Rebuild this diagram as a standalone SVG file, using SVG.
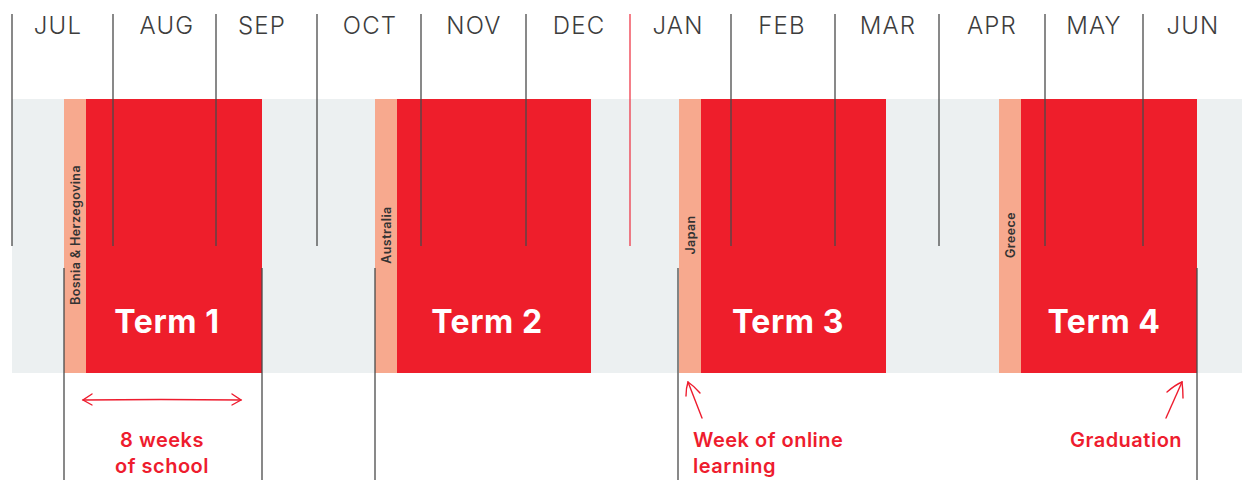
<svg xmlns="http://www.w3.org/2000/svg" width="1242" height="480" viewBox="0 0 1242 480">
<style>
.month{font-family:Inter,"Liberation Sans",sans-serif;font-weight:300;font-size:24px;letter-spacing:1.2px;fill:#3d3d3d;text-anchor:middle}
.term{font-family:Inter,"Liberation Sans",sans-serif;font-weight:700;font-size:32px;letter-spacing:0.6px;fill:#fff;text-anchor:middle}
.country{font-family:Inter,"Liberation Sans",sans-serif;font-weight:600;font-size:12.5px;letter-spacing:0.4px;fill:#333;text-anchor:middle}
.note{font-family:Inter,"Liberation Sans",sans-serif;font-weight:600;font-size:20px;letter-spacing:0.5px;fill:#ee1c2e}
.vl{stroke:#4a4a4a;stroke-width:1.3}
.salmon{fill:#f7a98e}
.red{fill:#ee1e2b}
.arr{stroke:#ee1c2e;stroke-width:1.4;fill:none;stroke-linecap:round}
</style>
<rect x="0" y="0" width="1242" height="480" fill="#fff"/>
<rect x="12" y="99" width="1230" height="274" fill="#ecf0f1"/>

<g id="term1">
<rect class="salmon" x="64" y="99" width="22" height="274"/>
<rect class="red" x="86" y="99" width="176" height="274"/>
<text class="country" transform="translate(79.5,235) rotate(-90)">Bosnia &amp; Herzegovina</text>
<text class="term" x="167" y="333">Term 1</text>
</g>
<g id="term2">
<rect class="salmon" x="375" y="99" width="22" height="274"/>
<rect class="red" x="397" y="99" width="194" height="274"/>
<text class="country" transform="translate(390.5,235) rotate(-90)">Australia</text>
<text class="term" x="487" y="333">Term 2</text>
</g>
<g id="term3">
<rect class="salmon" x="679" y="99" width="22" height="274"/>
<rect class="red" x="701" y="99" width="185" height="274"/>
<text class="country" transform="translate(694.5,235) rotate(-90)">Japan</text>
<text class="term" x="788" y="333">Term 3</text>
</g>
<g id="term4">
<rect class="salmon" x="999" y="99" width="22" height="274"/>
<rect class="red" x="1021" y="99" width="176" height="274"/>
<text class="country" transform="translate(1014.5,235) rotate(-90)">Greece</text>
<text class="term" x="1104" y="333">Term 4</text>
</g>

<g id="months">
<text class="month" x="58" y="34">JUL</text>
<text class="month" x="167" y="34">AUG</text>
<text class="month" x="262" y="34">SEP</text>
<text class="month" x="370" y="34">OCT</text>
<text class="month" x="474" y="34">NOV</text>
<text class="month" x="579" y="34">DEC</text>
<text class="month" x="678" y="34">JAN</text>
<text class="month" x="782" y="34">FEB</text>
<text class="month" x="888" y="34">MAR</text>
<text class="month" x="992" y="34">APR</text>
<text class="month" x="1094" y="34">MAY</text>
<text class="month" x="1193" y="34">JUN</text>
</g>

<g id="connectors">
<line class="vl" x1="12" y1="14" x2="12" y2="246"/>
<line class="vl" x1="113" y1="14" x2="113" y2="246"/>
<line class="vl" x1="216" y1="14" x2="216" y2="246"/>
<line class="vl" x1="317" y1="14" x2="317" y2="246"/>
<line class="vl" x1="421" y1="14" x2="421" y2="246"/>
<line class="vl" x1="526" y1="14" x2="526" y2="246"/>
<line x1="630" y1="14" x2="630" y2="246" stroke="#ef3a4a" stroke-width="1.3"/>
<line class="vl" x1="731" y1="14" x2="731" y2="246"/>
<line class="vl" x1="835" y1="14" x2="835" y2="246"/>
<line class="vl" x1="939" y1="14" x2="939" y2="246"/>
<line class="vl" x1="1045" y1="14" x2="1045" y2="246"/>
<line class="vl" x1="1143" y1="14" x2="1143" y2="246"/>
<line class="vl" x1="64" y1="268" x2="64" y2="480"/>
<line class="vl" x1="262" y1="268" x2="262" y2="480"/>
<line class="vl" x1="375" y1="268" x2="375" y2="480"/>
<line class="vl" x1="678" y1="268" x2="678" y2="480"/>
<line class="vl" x1="1197" y1="268" x2="1197" y2="480"/>
<path class="arr" d="M83 400 Q160 399 241 400"/>
<path class="arr" d="M92 394 L83 400 L92 405"/>
<path class="arr" d="M232 394 L241 400 L232 405"/>
<path class="arr" d="M702 418 Q695 400 688 382"/>
<path class="arr" d="M686 396 Q686 388 688 382 Q694 386 700 393"/>
<path class="arr" d="M1166 418 Q1174 400 1182 382"/>
<path class="arr" d="M1167 392 Q1175 385 1182 382 Q1183 390 1183 398"/>
</g>

<g id="notes">
<text class="note" x="162" y="447" text-anchor="middle">8 weeks</text>
<text class="note" x="162" y="473" text-anchor="middle">of school</text>
<text class="note" x="693" y="447">Week of online</text>
<text class="note" x="693" y="473">learning</text>
<text class="note" x="1126" y="447" text-anchor="middle">Graduation</text>
</g>
</svg>
